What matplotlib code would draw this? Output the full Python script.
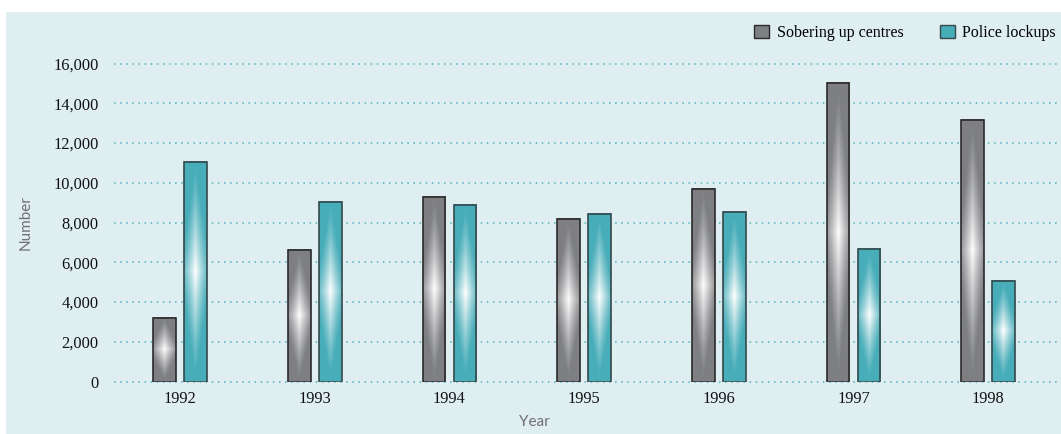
import numpy as np
import matplotlib
matplotlib.use("Agg")
import matplotlib.pyplot as plt
from matplotlib.colors import LinearSegmentedColormap
from matplotlib.patches import Rectangle, Patch

years = ["1992", "1993", "1994", "1995", "1996", "1997", "1998"]
sobering_up = [3180, 6640, 9280, 8170, 9680, 15000, 13170]
police_lockups = [11040, 9040, 8880, 8440, 8550, 6660, 5060]
y_ticks = [0, 2000, 4000, 6000, 8000, 10000, 12000, 14000, 16000]

GREY = "#7e7f83"
TEAL = "#47adb9"
PANEL = "#dfeef1"
GRID = "#4fb2bf"

BAR_W = 0.168
OFFSET = 0.115


def glow_bar(ax, x, h, color, edge):
    # vertical lens-shaped highlight fading out to the base colour
    u = np.linspace(-1, 1, 48)
    v = np.linspace(-1, 1, 240)
    U, V = np.meshgrid(u, v)
    glow = np.clip(1 - (0.7 * np.abs(U) + np.abs(V)), 0, 1) ** 1.25
    cmap = LinearSegmentedColormap.from_list("glow", [color, "white"])
    ax.imshow(glow, cmap=cmap, vmin=0, vmax=1, aspect="auto",
              extent=(x - BAR_W / 2, x + BAR_W / 2, 0, h),
              interpolation="bilinear", zorder=2)
    ax.add_patch(Rectangle((x - BAR_W / 2, 0), BAR_W, h, fill=False,
                           edgecolor=edge, lw=1.2, zorder=3))


fig = plt.figure(figsize=(10.61, 4.34), dpi=100, facecolor="white")
fig.patches.append(Rectangle((6 / 1061, 0), 1, 422 / 434, transform=fig.transFigure,
                             facecolor=PANEL, edgecolor="none", zorder=-5))

ax = fig.add_axes([114 / 1061, 52.5 / 434, 943 / 1061, 318 / 434])
ax.set_facecolor("none")

x = np.arange(len(years))
for i in x:
    glow_bar(ax, i - OFFSET, sobering_up[i], GREY, "#2a2a2a")
    glow_bar(ax, i + OFFSET, police_lockups[i], TEAL, "#34494c")

ax.set_xlim(-0.49, 6.51)
ax.set_ylim(0, 16000)
ax.set_yticks(y_ticks)
ax.set_yticklabels([f"{t:,}" for t in y_ticks])
ax.set_xticks(x)
ax.set_xticklabels(years)
ax.yaxis.grid(True, linestyle=(0, (1, 3)), color=GRID, lw=1.1, zorder=1)
ax.set_axisbelow(True)
for gl in ax.get_ygridlines():
    gl.set_clip_on(False)
for s in ax.spines.values():
    s.set_visible(False)
ax.tick_params(length=0, labelsize=11.8, labelcolor="#111111")
ax.tick_params(axis="y", pad=11)
ax.tick_params(axis="x", pad=7)
for lab in ax.get_xticklabels() + ax.get_yticklabels():
    lab.set_fontfamily("Liberation Serif")

ax.set_ylabel("Number", fontsize=11, color="#707070", family="Lato")
ax.yaxis.set_label_coords(-81 / 943, 0.5)
ax.set_xlabel("Year", fontsize=11, color="#707070", family="Lato")
ax.xaxis.set_label_coords(420 / 943, -34 / 318)

handles = [Patch(facecolor=GREY, edgecolor="#2a2a2a", lw=1.0),
           Patch(facecolor=TEAL, edgecolor="#34494c", lw=1.0)]
fig.legend(handles, ["Sobering up centres", "Police lockups"],
           loc="center right", bbox_to_anchor=(1056 / 1061, 1 - 33 / 434),
           ncol=2, frameon=False, borderpad=0, borderaxespad=0,
           handlelength=0.95, handleheight=0.8, handletextpad=0.45,
           columnspacing=2.3, prop={"family": "Liberation Serif", "size": 11.5})

fig.savefig("out.png", dpi=100, facecolor="white")
